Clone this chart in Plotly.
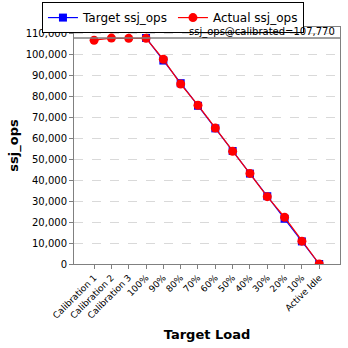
import plotly.graph_objects as go

categories = ["Calibration 1", "Calibration 2", "Calibration 3", "100%", "90%", "80%",
              "70%", "60%", "50%", "40%", "30%", "20%", "10%", "Active Idle"]
target_ssj_ops = [None, None, None, 107770, 96993, 86216, 75439, 64662, 53885,
                  43108, 32331, 21554, 10777, 0]
actual_ssj_ops = [106700, 107700, 107600, 107600, 97600, 85800, 75700, 64800, 53700,
                  43200, 32100, 22300, 10900, 0]
calibrated = 107770
y_ticks = list(range(0, 110001, 10000))

font = "DejaVu Sans, Verdana, sans-serif"
x_idx = list(range(len(categories)))

fig = go.Figure()
fig.add_trace(go.Scatter(
    x=x_idx, y=target_ssj_ops, name="Target ssj_ops", mode="lines+markers",
    line=dict(color="#0000ff", width=1.2),
    marker=dict(symbol="square", size=8, color="#0000ff"),
))
fig.add_trace(go.Scatter(
    x=x_idx, y=actual_ssj_ops, name="Actual ssj_ops", mode="lines+markers",
    line=dict(color="#ff0000", width=1.2),
    marker=dict(symbol="circle", size=9, color="#ff0000"),
))

# calibrated throughput reference line
fig.add_shape(type="line", xref="paper", x0=0, x1=1, yref="y",
              y0=calibrated, y1=calibrated,
              line=dict(color="#808080", width=1.5))
fig.add_annotation(xref="paper", x=1, xanchor="right", yref="y", y=calibrated,
                   yanchor="bottom", yshift=-2, xshift=-3,
                   text=f"ssj_ops@calibrated={calibrated:,}", showarrow=False,
                   font=dict(family=font, size=10, color="#000000"))

fig.update_layout(
    width=348, height=348,
    margin=dict(l=74, r=8, t=27, b=84, autoexpand=False),
    paper_bgcolor="white", plot_bgcolor="white",
    font=dict(family=font, size=10, color="#000000"),
    showlegend=True,
    legend=dict(orientation="h", x=0.497, xref="container", xanchor="center",
                y=0.994, yref="container", yanchor="top",
                bordercolor="#000000", borderwidth=1,
                font=dict(family=font, size=12), itemwidth=30,
                tracegroupgap=0),
    xaxis=dict(
        range=[-1.16, 14.2], tickmode="array", tickvals=x_idx,
        ticktext=categories, tickangle=-45, ticks="outside", ticklen=4,
        tickcolor="#808080", showgrid=False, zeroline=False,
        showline=True, linecolor="#808080", mirror=True,
        tickfont=dict(family=font, size=9),
        title=dict(text="<b>Target Load</b>", font=dict(family=font, size=13), standoff=10),
    ),
    yaxis=dict(
        range=[0, 113000], tickmode="array", tickvals=y_ticks,
        ticktext=[f"{v:,}" for v in y_ticks], ticks="outside", ticklen=4,
        tickcolor="#808080", showgrid=True, gridcolor="#d9d9d9", griddash="dash",
        zeroline=False, showline=True, linecolor="#808080", mirror=True,
        tickfont=dict(family=font, size=10),
        title=dict(text="<b>ssj_ops</b>", font=dict(family=font, size=13), standoff=4),
    ),
)

fig.write_html("out.html")
